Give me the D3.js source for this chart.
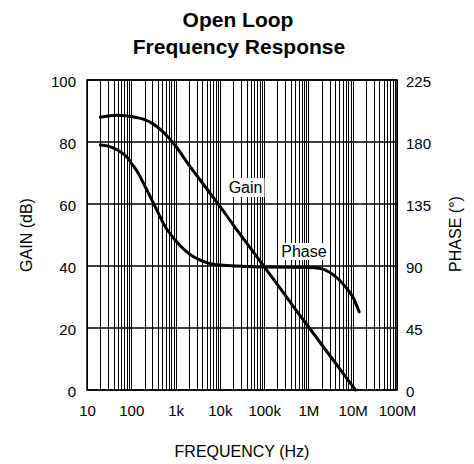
<!DOCTYPE html>
<html>
<head>
<meta charset="utf-8">
<script src="https://cdn.jsdelivr.net/npm/d3@7/dist/d3.min.js"></script>
<style>
  body { margin: 0; background: #fff; }
  text { font-family: "Liberation Sans", Arial, sans-serif; fill: #000; }
</style>
</head>
<body>
<svg id="chart" width="474" height="464"></svg>
<script>
// values
var gainFreq = [20, 30, 50, 70, 100, 200, 300, 500, 1e3, 2e3, 5e3, 1e4, 2e4, 5e4, 1e5, 2e5, 5e5, 1e6, 2e6, 5e6, 1e7, 1.16e7];
var gainDb   = [88, 88.4, 88.6, 88.5, 88.2, 87.2, 86, 83.5, 78.7, 72.6, 65, 59.3, 53.3, 45.6, 39.8, 34, 26.2, 20.4, 14.6, 7, 1.2, 0];

var phaseFreq = [20, 30, 50, 85, 100, 146, 200, 319, 585, 1e3, 1.34e3, 2e3, 3.5e3, 5e3, 1e4, 3e4, 1e5, 1e6, 1.77e6, 3e6, 5e6, 7e6, 1e7, 1.4e7];
var phaseDeg  = [177.8, 177, 174, 168, 164.7, 157, 148.3, 135.5, 118.5, 108.5, 104, 99, 94.4, 92.5, 90.7, 89.8, 89.3, 89, 88.3, 85.5, 79.8, 74.5, 67.7, 56.8];

var xTicks = [10, 100, 1e3, 1e4, 1e5, 1e6, 1e7, 1e8];
var xTickLabels = ["10", "100", "1k", "10k", "100k", "1M", "10M", "100M"];
var gainTicks = [0, 20, 40, 60, 80, 100];
var phaseTicks = [0, 45, 90, 135, 180, 225];

var svg = d3.select('#chart');
var pLeft = 87, pRight = 397, pTop = 80, pBottom = 390;

var x = d3.scaleLog().domain([10, 1e8]).range([pLeft, pRight]);
var yGain = d3.scaleLinear().domain([0, 100]).range([pBottom, pTop]);
var yPhase = d3.scaleLinear().domain([0, 225]).range([pBottom, pTop]);

// title
svg.append('text').attr('x', 238).attr('y', 27).attr('text-anchor', 'middle')
  .style('font-size', '21px').style('font-weight', 'bold').text('Open Loop');
svg.append('text').attr('x', 239).attr('y', 53.5).attr('text-anchor', 'middle')
  .style('font-size', '21px').style('font-weight', 'bold').text('Frequency Response');

// vertical log grid
var minor = [];
for (var d = 10; d < 1e8; d *= 10) {
  for (var k = 1; k < 10; k++) minor.push(d * k);
}
minor.push(1e8);
svg.append('g').selectAll('line').data(minor).enter().append('line')
  .attr('x1', function(f) { return Math.round(x(f)) + 0.5; })
  .attr('x2', function(f) { return Math.round(x(f)) + 0.5; })
  .attr('y1', pTop).attr('y2', pBottom)
  .attr('stroke', '#000').attr('stroke-width', 1);

// horizontal grid
svg.append('g').selectAll('line').data(gainTicks).enter().append('line')
  .attr('x1', pLeft).attr('x2', pRight)
  .attr('y1', function(v) { return yGain(v); })
  .attr('y2', function(v) { return yGain(v); })
  .attr('stroke', '#000').attr('stroke-width', 1.5);

svg.append('rect').attr('x', pLeft).attr('y', pTop)
  .attr('width', pRight - pLeft).attr('height', pBottom - pTop)
  .attr('fill', 'none').attr('stroke', '#000').attr('stroke-width', 1.5);

// axes labels
var yLeft = d3.axisLeft(yGain).tickValues(gainTicks).tickSize(0).tickPadding(11);
var gl = svg.append('g').attr('transform', 'translate(' + pLeft + ',0)').call(yLeft);
var yRight = d3.axisRight(yPhase).tickValues(phaseTicks).tickSize(0).tickPadding(9);
var gr = svg.append('g').attr('transform', 'translate(' + pRight + ',0)').call(yRight);
var xAxis = d3.axisBottom(x).tickValues(xTicks).tickSize(0).tickPadding(15)
  .tickFormat(function(d, i) { return xTickLabels[i]; });
var gx = svg.append('g').attr('transform', 'translate(0,' + pBottom + ')').call(xAxis);
[gl, gr, gx].forEach(function(g) {
  g.select('.domain').remove();
  g.selectAll('text').style('font-size', '15px').style('font-family', '"Liberation Sans", Arial, sans-serif').attr('fill', '#000');
});
gl.selectAll('text').attr('dy', '0.42em');
gr.selectAll('text').attr('dy', '0.42em');

svg.append('text').attr('transform', 'translate(32,235) rotate(-90)').attr('text-anchor', 'middle')
  .style('font-size', '16px').text('GAIN (dB)');
svg.append('text').attr('transform', 'translate(461,234) rotate(-90)').attr('text-anchor', 'middle')
  .style('font-size', '16px').text('PHASE (°)');
svg.append('text').attr('x', 242).attr('y', 457).attr('text-anchor', 'middle')
  .style('font-size', '16px').text('FREQUENCY (Hz)');

// curves
var gainLine = d3.line()
  .x(function(d, i) { return x(gainFreq[i]); })
  .y(function(d, i) { return yGain(gainDb[i]); })
  .curve(d3.curveMonotoneX);
var phaseLine = d3.line()
  .x(function(d, i) { return x(phaseFreq[i]); })
  .y(function(d, i) { return yPhase(phaseDeg[i]); })
  .curve(d3.curveMonotoneX);

svg.append('path').datum(phaseDeg).attr('d', phaseLine)
  .attr('fill', 'none').attr('stroke', '#000').attr('stroke-width', 3).attr('stroke-linecap', 'round');
svg.append('path').datum(gainDb).attr('d', gainLine)
  .attr('fill', 'none').attr('stroke', '#000').attr('stroke-width', 3).attr('stroke-linecap', 'round');

// curve labels with white boxes
function label(txt, cx, cy, w, h) {
  svg.append('rect').attr('x', cx - w / 2).attr('y', cy - h / 2).attr('width', w).attr('height', h).attr('fill', '#fff');
  svg.append('text').attr('x', cx).attr('y', cy).attr('dy', '0.36em').attr('text-anchor', 'middle')
    .style('font-size', '16px').text(txt);
}
label('Gain', x(3.8e4), yGain(65.3), 38, 19);
label('Phase', x(7.9e5), yPhase(100.5), 48, 17);
</script>
</body>
</html>
